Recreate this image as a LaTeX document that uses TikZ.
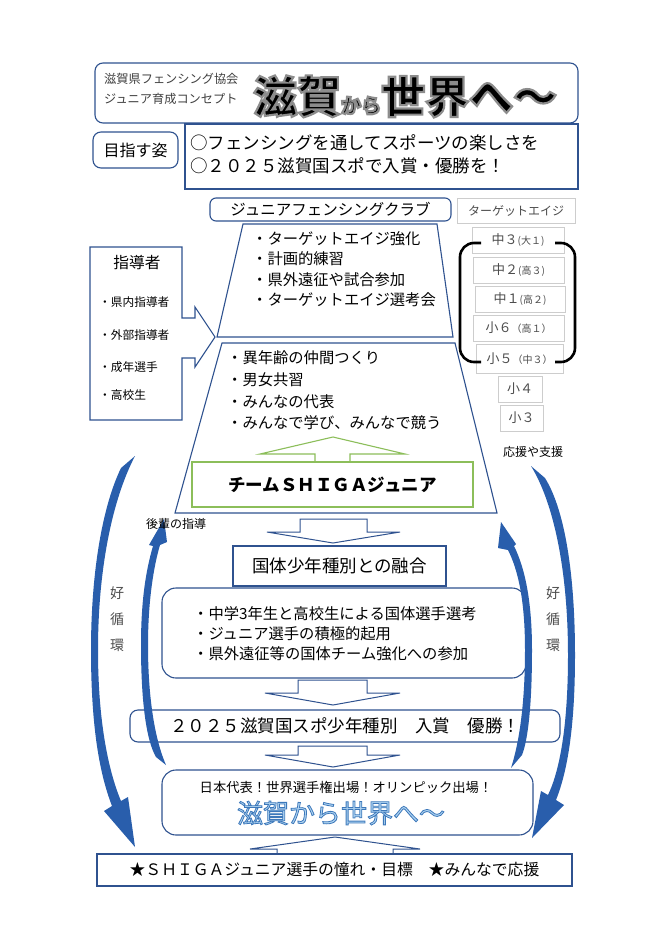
\documentclass[tikz,border=0pt]{standalone}
\usepackage{fontspec}
\setmainfont{Noto Sans CJK JP}

\definecolor{boxblue}{RGB}{47,82,143}
\definecolor{cycblue}{RGB}{41,94,172}
\definecolor{teamgreen}{RGB}{140,190,90}
\definecolor{gradegray}{RGB}{205,205,205}
\definecolor{worldfill}{RGB}{175,212,242}

\newcommand\jfs[1]{\fontsize{#1}{#1}\selectfont}
\newcommand\outlined[2]{\special{pdf:literal 2 Tr #1}#2\special{pdf:literal 0 Tr}}

\begin{document}
\begin{tikzpicture}[x=1pt,y=-1pt,
    frame/.style={draw=boxblue,line width=1.1pt,rounded corners=8pt,inner sep=0pt},
    sqframe/.style={draw=boxblue,line width=1.1pt,inner sep=0pt},
    grade/.style={draw=gradegray,line width=0.9pt,inner sep=0pt,text=black!70},
    blockarrow/.style={draw=boxblue,line width=1pt,fill=white},
    cycarrow/.style={fill=cycblue},
    txt/.style={inner sep=0pt,anchor=west}]

  \useasboundingbox[fill=white] (0,0) rectangle (670,948);

  % title
  \node[frame,minimum width=483,minimum height=60] (head) at (336.5,93) {};
  \node[txt,text=black!75] (org) at (104,79) {\jfs{12.2}滋賀県フェンシング協会};
  \node[txt,text=black!75] (cpt) at (104,99) {\jfs{12.2}ジュニア育成コンセプト};
  \node[inner sep=0pt,anchor=base west] (slogan) at (253,113)
    {\bfseries\outlined{2.2 w 0.55 0.55 0.55 RG}{\jfs{44}滋賀\jfs{20}から\jfs{44}世界へ～}};

  \node[frame,minimum width=85,minimum height=36] (aim) at (135.5,150) {\jfs{16}目指す姿};
  \node[sqframe,minimum width=393,minimum height=65] (goal) at (381.5,156.5) {};
  \node[txt] (goal1) at (190,143) {\jfs{17.5}○フェンシングを通してスポーツの楽しさを};
  \node[txt] (goal2) at (190,166) {\jfs{17.5}○２０２５滋賀国スポで入賞・優勝を！};

  % club
  \node[frame,rounded corners=6pt,minimum width=241,minimum height=23] (club) at (330.5,209.5)
    {\jfs{15.5}ジュニアフェンシングクラブ};
  \draw[boxblue,line width=1.1pt] (243,224) -- (437,224) -- (453,337) -- (217,337) -- cycle;
  \draw[boxblue,line width=1.1pt] (222,343) -- (455,343) -- (497,513) -- (175,513) -- cycle;

  \node[txt] (up1) at (252,239) {\jfs{15.3}・ターゲットエイジ強化};
  \node[txt] (up2) at (252,259) {\jfs{15.3}・計画的練習};
  \node[txt] (up3) at (252,280) {\jfs{15.3}・県外遠征や試合参加};
  \node[txt] (up4) at (252,300) {\jfs{15.3}・ターゲットエイジ選考会};

  \node[txt] (low1) at (227,358) {\jfs{15.3}・異年齢の仲間つくり};
  \node[txt] (low2) at (227,380) {\jfs{15.3}・男女共習};
  \node[txt] (low3) at (227,402) {\jfs{15.3}・みんなの代表};
  \node[txt] (low4) at (227,423) {\jfs{15.3}・みんなで学び、みんなで競う};

  \draw[teamgreen,line width=1.1pt] (315,462) -- (315,454) -- (260,454) -- (333,437)
    -- (405,454) -- (350,454) -- (350,462);
  \node[draw=teamgreen,line width=1.1pt,minimum width=281,minimum height=45,inner sep=0pt]
    (team) at (332.5,484.5) {\bfseries\jfs{17.5}チームＳＨＩＧＡジュニア};

  % coaches
  \draw[boxblue,line width=1.1pt] (90,247) -- (182,247) -- (182,318) -- (195,318) -- (195,307)
    -- (215,337) -- (195,367) -- (195,358) -- (182,358) -- (182,420) -- (90,420) -- cycle;
  \node (coach) at (137,263) {\jfs{15.7}指導者};
  \node[txt] (coach1) at (99,302) {\jfs{11.7}・県内指導者};
  \node[txt] (coach2) at (99,335) {\jfs{11.7}・外部指導者};
  \node[txt] (coach3) at (99,367) {\jfs{11.7}・成年選手};
  \node[txt] (coach4) at (99,395) {\jfs{11.7}・高校生};

  % target age
  \node[grade,minimum width=118,minimum height=25] (age) at (516,211) {\jfs{12}ターゲットエイジ};
  \node[grade,minimum width=92,minimum height=26] (g1) at (518,240) {\jfs{13}中３\jfs{10}(大１)};
  \node[grade,minimum width=91,minimum height=26] (g2) at (518.5,270) {\jfs{13}中２\jfs{10}(高３)};
  \node[grade,minimum width=90,minimum height=26] (g3) at (520,299) {\jfs{13}中１\jfs{10}(高２)};
  \node[grade,minimum width=91,minimum height=26] (g4) at (518.5,328) {\jfs{13}小６\jfs{10}（高１）};
  \node[grade,minimum width=87,minimum height=29] (g5) at (519.5,358.5) {\jfs{13}小５\jfs{10}（中３）};
  \node[grade,minimum width=44,minimum height=26] (g6) at (520,389) {\jfs{13}小４};
  \node[grade,minimum width=43,minimum height=26] (g7) at (521.5,418) {\jfs{13}小３};
  \draw[line width=2.6pt,rounded corners=14pt] (481,243) -- (460,243) -- (460,362) -- (481,362);
  \draw[line width=2.6pt,rounded corners=14pt] (555,243) -- (575,243) -- (575,362) -- (555,362);

  % flow
  \draw[blockarrow] (300,519) -- (367,519) -- (367,532) -- (400,532) -- (333,543) -- (267,532)
    -- (300,532) -- cycle;
  \node[sqframe,minimum width=213,minimum height=40] (fuse) at (339.5,566) {\jfs{17.5}国体少年種別との融合};
  \node[frame,rounded corners=14pt,minimum width=364,minimum height=90] (plan) at (344,633) {};
  \node[txt] (plan1) at (193,614) {\jfs{15.3}・中学3年生と高校生による国体選手選考};
  \node[txt] (plan2) at (193,634) {\jfs{15.3}・ジュニア選手の積極的起用};
  \node[txt] (plan3) at (193,654) {\jfs{15.3}・県外遠征等の国体チーム強化への参加};

  \draw[blockarrow] (298,680) -- (367,680) -- (367,693) -- (400,693) -- (333,705) -- (265,693)
    -- (298,693) -- cycle;
  \node[frame,minimum width=430,minimum height=32] (kokusupo) at (345,726)
    {\jfs{17.5}２０２５滋賀国スポ少年種別　入賞　優勝！};

  \draw[blockarrow] (298,746) -- (367,746) -- (367,755) -- (400,755) -- (333,767) -- (265,755)
    -- (298,755) -- cycle;
  \node[frame,rounded corners=14pt,minimum width=371,minimum height=65] (world) at (347.5,802.5) {};
  \node (world1) at (346,787) {\jfs{13.3}日本代表！世界選手権出場！オリンピック出場！};
  \node[inner sep=0pt,text=worldfill] (world2) at (341,813)
    {\jfs{26}\outlined{0.8 w 0.24 0.47 0.73 RG}{滋賀から世界へ～}};

  \draw[boxblue,line width=1pt] (277,854) -- (277,849) -- (250,849) -- (335,837) -- (420,849)
    -- (393,849) -- (393,854);
  \node[sqframe,minimum width=475,minimum height=32] (cheer) at (334.5,870)
    {\jfs{15.8}★ＳＨＩＧＡジュニア選手の憧れ・目標　★みんなで応援};

  % cycle arrows
  \fill[cycarrow] (135,456) .. controls (112,500) and (98,570) .. (98,650)
    .. controls (98,720) and (108,770) .. (121,801) -- (128,797) -- (135,847) -- (104,811)
    -- (112,806) .. controls (98,770) and (91,720) .. (91,650)
    .. controls (91,570) and (103,505) .. (121,468) -- cycle;
  \fill[cycarrow] (531,466) .. controls (555,505) and (568,575) .. (568,655)
    .. controls (568,725) and (560,770) .. (548,795) -- (541,791) -- (532,838) -- (564,805)
    -- (556,800) .. controls (568,770) and (575,725) .. (575,655)
    .. controls (575,575) and (565,510) .. (545,478) -- cycle;
  \fill[cycarrow] (166,765) .. controls (153,735) and (148,690) .. (148,645)
    .. controls (148,600) and (154,565) .. (160,545) -- (167,542) -- (164,519) -- (149,545)
    -- (153,546) .. controls (146,570) and (141,600) .. (141,645)
    .. controls (141,700) and (146,740) .. (156,757) -- cycle;
  \fill[cycarrow] (511,768) .. controls (520,740) and (525,700) .. (525,650)
    .. controls (525,600) and (518,570) .. (508,550) -- (498,548) -- (501,522) -- (516,544)
    -- (514,546) .. controls (526,570) and (532,605) .. (532,650)
    .. controls (532,705) and (528,740) .. (522,755) -- cycle;

  \node (junior) at (176,524) {\jfs{12}後輩の指導};
  \node (support) at (533,452) {\jfs{12}応援や支援};
  \node[text=black!70,align=center,font=\jfs{14}] (loopl) at (117,619) {好\\[12pt]循\\[12pt]環};
  \node[text=black!70,align=center,font=\jfs{14}] (loopr) at (553,619) {好\\[12pt]循\\[12pt]環};

\end{tikzpicture}
\end{document}
